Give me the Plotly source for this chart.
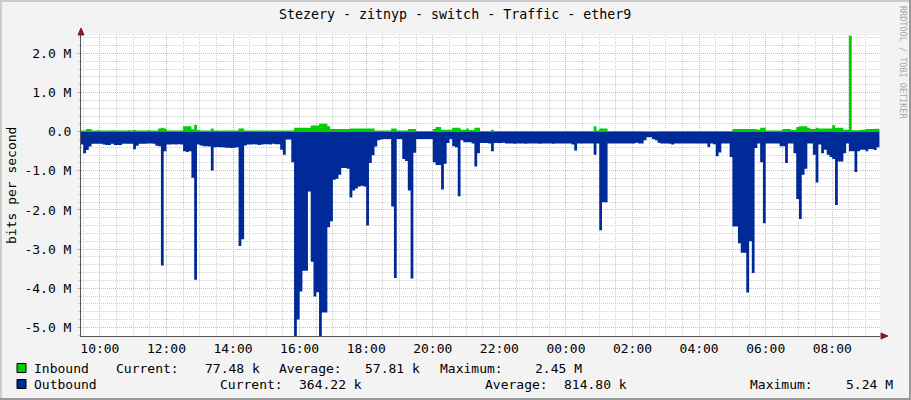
import plotly.graph_objects as go
import pandas as pd

# ---------------- data ----------------
TITLE = "Stezery - zitnyp - switch - Traffic - ether9"
START = "2024-01-01 09:25"      # first 5-minute sample
STEP = "5min"
X_RANGE = ["2024-01-01 09:26", "2024-01-02 09:26"]

# Inbound traffic, Mbit/s (5-minute samples)
inbound_M = [
    # 09:25 - 15:20
    0.03, 0.03, 0.07, 0.07, 0.03, 0.03, 0.035, 0.03, 0.03, 0.03,
    0.03, 0.035, 0.03, 0.03, 0.03, 0.03, 0.03, 0.035, 0.03, 0.045,
    0.03, 0.03, 0.03, 0.03, 0.035, 0.03, 0.03, 0.03, 0.08, 0.10,
    0.08, 0.03, 0.03, 0.03, 0.03, 0.03, 0.03, 0.14, 0.14, 0.14,
    0.06, 0.18, 0.04, 0.03, 0.03, 0.03, 0.03, 0.08, 0.03, 0.03,
    0.03, 0.03, 0.03, 0.03, 0.03, 0.03, 0.03, 0.08, 0.08, 0.03,
    0.03, 0.03, 0.03, 0.03, 0.03, 0.03, 0.03, 0.03, 0.03, 0.03,
    0.03, 0.03,
    # 15:25 - 21:20
    0.03, 0.03, 0.03, 0.03, 0.03, 0.10, 0.10, 0.10, 0.10, 0.10,
    0.10, 0.16, 0.16, 0.16, 0.20, 0.20, 0.20, 0.14, 0.07, 0.07,
    0.07, 0.07, 0.07, 0.07, 0.07, 0.08, 0.08, 0.08, 0.08, 0.08,
    0.08, 0.08, 0.08, 0.08, 0.03, 0.03, 0.03, 0.03, 0.03, 0.03,
    0.08, 0.08, 0.03, 0.03, 0.03, 0.03, 0.07, 0.07, 0.07, 0.02,
    0.02, 0.02, 0.02, 0.02, 0.02, 0.07, 0.12, 0.12, 0.05, 0.05,
    0.05, 0.05, 0.10, 0.10, 0.10, 0.05, 0.05, 0.08, 0.04, 0.04,
    0.10, 0.10,
    # 21:25 - 03:20
    0.02, 0.02, 0.02, 0.02, 0.05, 0.02, 0.02, 0.02, 0.02, 0.02,
    0.02, 0.02, 0.02, 0.02, 0.02, 0.02, 0.02, 0.02, 0.02, 0.02,
    0.02, 0.02, 0.02, 0.02, 0.02, 0.02, 0.02, 0.02, 0.02, 0.02,
    0.02, 0.02, 0.02, 0.02, 0.02, 0.02, 0.02, 0.02, 0.02, 0.02,
    0.02, 0.14, 0.03, 0.08, 0.08, 0.08, 0.02, 0.02, 0.02, 0.02,
    0.02, 0.02, 0.02, 0.02, 0.02, 0.02, 0.02, 0.02, 0.02, 0.01,
    0.01, 0.01, 0.01, 0.01, 0.02, 0.02, 0.02, 0.02, 0.02, 0.02,
    0.02, 0.02,
    # 03:25 - 09:25
    0.02, 0.02, 0.02, 0.02, 0.02, 0.02, 0.02, 0.02, 0.02, 0.02,
    0.02, 0.02, 0.02, 0.02, 0.02, 0.02, 0.02, 0.02, 0.02, 0.07,
    0.07, 0.07, 0.07, 0.07, 0.07, 0.07, 0.07, 0.07, 0.05, 0.10,
    0.10, 0.03, 0.03, 0.03, 0.03, 0.03, 0.03, 0.07, 0.07, 0.07,
    0.04, 0.04, 0.12, 0.14, 0.14, 0.14, 0.10, 0.07, 0.07, 0.10,
    0.08, 0.08, 0.08, 0.08, 0.08, 0.17, 0.10, 0.10, 0.10, 0.05,
    0.05, 2.45, 0.035, 0.035, 0.035, 0.05, 0.05, 0.07, 0.07, 0.07,
    0.075, 0.077, 0.0775,
]

# Outbound traffic, Mbit/s (drawn below zero)
outbound_M = [
    # 09:25 - 15:20
    0.33, 0.55, 0.47, 0.38, 0.31, 0.31, 0.31, 0.31, 0.33, 0.34,
    0.34, 0.31, 0.34, 0.34, 0.34, 0.31, 0.31, 0.31, 0.31, 0.45,
    0.36, 0.31, 0.31, 0.31, 0.30, 0.30, 0.31, 0.36, 0.37, 3.42,
    0.50, 0.33, 0.33, 0.32, 0.33, 0.32, 0.33, 0.50, 0.52, 0.50,
    1.18, 3.78, 0.33, 0.35, 0.37, 0.37, 0.38, 0.99, 0.40, 0.39,
    0.40, 0.40, 0.41, 0.41, 0.42, 0.41, 0.40, 2.92, 2.75, 0.35,
    0.33, 0.33, 0.32, 0.33, 0.34, 0.33, 0.32, 0.32, 0.33, 0.31,
    0.32, 0.32,
    # 15:25 - 21:20
    0.46, 0.59, 0.20, 0.20, 0.78, 5.22, 4.80, 4.08, 3.55, 3.55,
    1.53, 3.32, 4.21, 4.10, 5.24, 4.62, 4.62, 2.44, 2.29, 1.23,
    1.20, 1.10, 0.93, 0.93, 0.95, 1.68, 1.50, 1.45, 1.40, 1.38,
    1.40, 2.40, 0.80, 0.60, 0.38, 0.22, 0.20, 0.19, 0.19, 0.19,
    1.91, 3.74, 0.19, 0.19, 0.70, 0.75, 1.50, 3.75, 0.54, 0.19,
    0.19, 0.19, 0.19, 0.19, 0.19, 0.78, 0.85, 0.85, 1.48, 0.82,
    0.29, 0.19, 0.37, 0.40, 1.65, 0.22, 0.27, 0.27, 0.27, 0.30,
    0.89, 0.55,
    # 21:25 - 03:20
    0.29, 0.29, 0.29, 0.30, 0.50, 0.29, 0.29, 0.29, 0.28, 0.30,
    0.30, 0.30, 0.31, 0.30, 0.30, 0.30, 0.31, 0.30, 0.30, 0.30,
    0.30, 0.31, 0.30, 0.30, 0.30, 0.30, 0.31, 0.30, 0.30, 0.30,
    0.30, 0.30, 0.30, 0.33, 0.48, 0.30, 0.30, 0.30, 0.30, 0.30,
    0.30, 0.59, 0.30, 2.52, 1.80, 1.80, 0.30, 0.30, 0.30, 0.30,
    0.30, 0.30, 0.30, 0.30, 0.30, 0.30, 0.28, 0.30, 0.30, 0.22,
    0.14, 0.14, 0.19, 0.22, 0.28, 0.30, 0.30, 0.30, 0.31, 0.33,
    0.30, 0.30,
    # 03:25 - 09:25
    0.30, 0.30, 0.30, 0.30, 0.30, 0.30, 0.30, 0.30, 0.30, 0.30,
    0.39, 0.30, 0.32, 0.63, 0.53, 0.30, 0.30, 0.30, 0.65, 2.42,
    2.42, 2.85, 3.09, 3.09, 4.11, 2.80, 3.61, 0.42, 0.30, 0.78,
    2.34, 0.30, 0.30, 0.30, 0.30, 0.30, 0.37, 0.37, 0.80, 0.30,
    0.30, 0.55, 1.72, 2.23, 1.10, 0.95, 0.30, 0.30, 0.59, 1.30,
    0.33, 0.55, 0.46, 0.59, 0.65, 0.70, 1.87, 0.76, 0.76, 0.55,
    0.30, 0.50, 0.50, 1.03, 0.50, 0.46, 0.46, 0.50, 0.44, 0.45,
    0.47, 0.40, 0.364,
]

y_tick_vals = [-5e6, -4e6, -3e6, -2e6, -1e6, 0, 1e6, 2e6]
y_tick_text = ["-5.0 M", "-4.0 M", "-3.0 M", "-2.0 M", "-1.0 M", "0.0", "1.0 M", "2.0 M"]
Y_RANGE = [-5.22e6, 2.47e6]

legend_rows = [
    ("Inbound", "#00CF00",
     [("Current:", 116), ("77.48 k", 205), ("Average:", 279), ("57.81 k", 365),
      ("Maximum:", 440), ("2.45 M", 535)]),
    ("Outbound", "#002A97",
     [("Current:", 220), ("364.22 k", 299), ("Average:", 485), ("814.80 k", 564),
      ("Maximum:", 750), ("5.24 M", 846)]),
]

# ---------------- layout helpers ----------------
W, H = 911, 400
ML, MR, MT, MB = 81, 31, 35, 64
PW, PH = W - ML - MR, H - MT - MB
FONT = "DejaVu Sans Mono"


def px(x):
    return (x - ML) / PW


def py(y):
    return (H - MB - y) / PH


times = pd.date_range(START, periods=len(outbound_M), freq=STEP)
inb = [v * 1e6 for v in inbound_M]
outb = [-v * 1e6 for v in outbound_M]

fig = go.Figure()
fig.add_trace(go.Scatter(x=times, y=inb, mode="lines",
                         line=dict(width=0, shape="hv", color="#00CF00"),
                         fill="tozeroy", fillcolor="#00CF00", hoverinfo="skip"))
fig.add_trace(go.Scatter(x=times, y=outb, mode="lines",
                         line=dict(width=0, shape="hv", color="#002A97"),
                         fill="tozeroy", fillcolor="#002A97", hoverinfo="skip"))

MAJ = "#F4A8A8"
MIN = "#D0D0D0"
DOT = "1px,1px"

fig.update_layout(
    width=W, height=H,
    margin=dict(l=ML, r=MR, t=MT, b=MB, pad=0, autoexpand=False),
    paper_bgcolor="#F3F3F3", plot_bgcolor="#FFFFFF",
    showlegend=False,
    font=dict(family=FONT, size=13, color="#000000"),
    xaxis=dict(
        type="date", range=X_RANGE, automargin=False,
        tickmode="linear", tick0="2024-01-01 10:00", dtick=7200000,
        tickformat="%H:%M",
        showgrid=True, gridcolor=MAJ, griddash=DOT, gridwidth=1,
        ticks="",
        minor=dict(tick0="2024-01-01 10:00", dtick=1800000, showgrid=True,
                   gridcolor=MIN, griddash=DOT, gridwidth=1, ticks=""),
        showline=True, linecolor="#555555", linewidth=1,
        zeroline=False, fixedrange=True,
        tickfont=dict(family=FONT, size=13, color="#000000"),
    ),
    yaxis=dict(
        range=Y_RANGE, automargin=False,
        tickmode="array", tickvals=y_tick_vals, ticktext=y_tick_text,
        showgrid=True, gridcolor=MAJ, griddash=DOT, gridwidth=1,
        ticks="outside", ticklen=3, tickcolor=MAJ,
        minor=dict(tick0=0, dtick=200000, showgrid=True,
                   gridcolor=MIN, griddash=DOT, gridwidth=1,
                   ticks="outside", ticklen=2, tickcolor=MIN),
        showline=True, linecolor="#555555", linewidth=1,
        zeroline=False, fixedrange=True,
        ticklabelstandoff=3,
        tickfont=dict(family=FONT, size=13, color="#000000"),
    ),
)

shapes = []
# frame (3D-style border)
shapes.append(dict(type="rect", xref="paper", yref="paper",
                   x0=px(0), x1=px(W), y0=py(0), y1=py(2), fillcolor="#CBCBCB", line_width=0))
shapes.append(dict(type="rect", xref="paper", yref="paper",
                   x0=px(0), x1=px(2), y0=py(0), y1=py(H), fillcolor="#CBCBCB", line_width=0))
shapes.append(dict(type="rect", xref="paper", yref="paper",
                   x0=px(W - 2), x1=px(W), y0=py(0), y1=py(H), fillcolor="#999999", line_width=0))
shapes.append(dict(type="rect", xref="paper", yref="paper",
                   x0=px(0), x1=px(W), y0=py(H - 2), y1=py(H), fillcolor="#999999", line_width=0))
# axis arrows
ARROW = "#7F1F1F"
shapes.append(dict(type="path", xref="paper", yref="paper",
                   path=f"M {px(78)} {py(35)} L {px(84)} {py(35)} L {px(81)} {py(28)} Z",
                   fillcolor=ARROW, line=dict(color=ARROW, width=1)))
shapes.append(dict(type="path", xref="paper", yref="paper",
                   path=f"M {px(881)} {py(333)} L {px(881)} {py(339)} L {px(888)} {py(336)} Z",
                   fillcolor=ARROW, line=dict(color=ARROW, width=1)))

annotations = []
annotations.append(dict(text=TITLE, x=px(455), y=py(14), xref="paper", yref="paper",
                        showarrow=False, xanchor="center", yanchor="middle",
                        font=dict(family=FONT, size=13.3, color="#000000")))
annotations.append(dict(text="bits per second", x=px(11), y=py(186), xref="paper", yref="paper",
                        showarrow=False, xanchor="center", yanchor="middle", textangle=-90,
                        font=dict(family=FONT, size=13, color="#000000")))
annotations.append(dict(text="RRDTOOL / TOBI OETIKER", x=px(903), y=py(62), xref="paper", yref="paper",
                        showarrow=False, xanchor="center", yanchor="middle", textangle=90,
                        font=dict(family=FONT, size=8.5, color="#A8A8A8")))

row_y = [368, 384]
for (name, color, items), yy in zip(legend_rows, row_y):
    shapes.append(dict(type="rect", xref="paper", yref="paper",
                       x0=px(17), x1=px(26), y0=py(yy - 4.5), y1=py(yy + 4.5),
                       fillcolor=color, line=dict(color="#000000", width=1)))
    annotations.append(dict(text=name, x=px(32), y=py(yy), xref="paper", yref="paper",
                            showarrow=False, xanchor="left", yanchor="middle",
                            font=dict(family=FONT, size=13, color="#000000")))
    for txt, xx in items:
        annotations.append(dict(text=txt, x=px(xx - 2), y=py(yy), xref="paper", yref="paper",
                                showarrow=False, xanchor="left", yanchor="middle",
                                font=dict(family=FONT, size=13, color="#000000")))

fig.update_layout(shapes=shapes, annotations=annotations)
fig.write_html("out.html", config={"displayModeBar": False},
               post_script="document.body.style.margin='0px';document.body.style.overflow='hidden';")
